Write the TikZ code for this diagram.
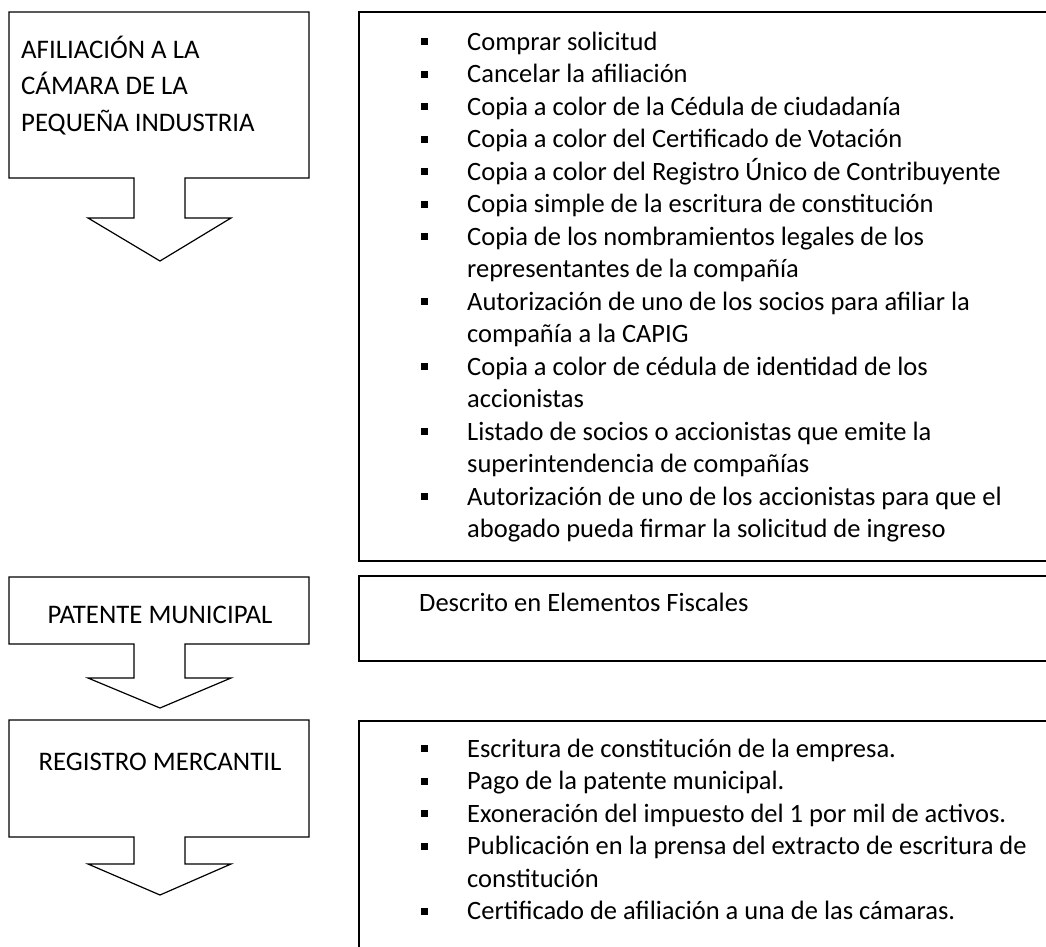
\documentclass[tikz,border=0pt]{standalone}
\usepackage{fontspec}
\setmainfont{Carlito}
\usetikzlibrary{positioning}

% square bullet and list line helpers
\newcommand{\cuad}{\makebox[46pt][l]{\raisebox{5pt}{\rule{7pt}{7pt}}}}
\newcommand{\sigue}{\hspace*{46pt}}

\tikzset{
  caja/.style={draw, line width=1.2pt, line join=miter},
  paso/.style={inner sep=0pt, font=\fontsize{26.8}{36.7}\selectfont},
  lista/.style={inner sep=0pt, anchor=base west, font=\fontsize{26.5}{32.5}\selectfont}
}

\begin{document}
\begin{tikzpicture}[x=1pt, y=-1pt]
\useasboundingbox (0,0) rectangle (1046,947);

% left boxes with their down arrows
\foreach \t/\b/\s/\p in {12/178/218/261, 577/644/678/708, 720/837/864/895}
  \draw[caja] (9,\t) -- (309,\t) -- (309,\b) -- (185,\b) -- (185,\s) -- (231,\s)
    -- (160,\p) -- (88,\s) -- (134,\s) -- (134,\b) -- (9,\b) -- cycle;

% right boxes, open on the right
\draw[caja] (1046,12) -- (359,12) -- (359,561) -- (1046,561);
\draw[caja] (1046,576) -- (359,576) -- (359,661) -- (1046,661);
\draw[caja] (1046,721) -- (359,721) -- (359,947);

\path
(21,58.3) node[paso, anchor=base west] (afil) {\begin{tabular}[t]{@{}l@{}}AFILIACIÓN A LA\\CÁMARA DE LA\\PEQUEÑA INDUSTRIA\end{tabular}}
(160,623.3) node[paso, anchor=base] (patente) {PATENTE MUNICIPAL}
(160,770) node[paso, anchor=base] (registro) {REGISTRO MERCANTIL}
;

\node[lista] (reqAfil) at (421,50.4) {\begin{tabular}[t]{@{}l@{}}
\cuad Comprar solicitud\\
\cuad Cancelar la afiliación\\
\cuad Copia a color de la Cédula de ciudadanía\\
\cuad Copia a color del Certificado de Votación\\
\cuad Copia a color del Registro Único de Contribuyente\\
\cuad Copia simple de la escritura de constitución\\
\cuad Copia de los nombramientos legales de los\\
\sigue representantes de la compañía\\
\cuad Autorización de uno de los socios para afiliar la\\
\sigue compañía a la CAPIG\\
\cuad Copia a color de cédula de identidad de los\\
\sigue accionistas\\
\cuad Listado de socios o accionistas que emite la\\
\sigue superintendencia de compañías\\
\cuad Autorización de uno de los accionistas para que el\\
\sigue abogado pueda firmar la solicitud de ingreso
\end{tabular}};

\node[lista] (reqPat) at (419,611.4) {Descrito en Elementos Fiscales};

\node[lista] (reqReg) at (421,757.4) {\begin{tabular}[t]{@{}l@{}}
\cuad Escritura de constitución de la empresa.\\
\cuad Pago de la patente municipal.\\
\cuad Exoneración del impuesto del 1 por mil de activos.\\
\cuad Publicación en la prensa del extracto de escritura de\\
\sigue constitución\\
\cuad Certificado de afiliación a una de las cámaras.
\end{tabular}};

\end{tikzpicture}
\end{document}
